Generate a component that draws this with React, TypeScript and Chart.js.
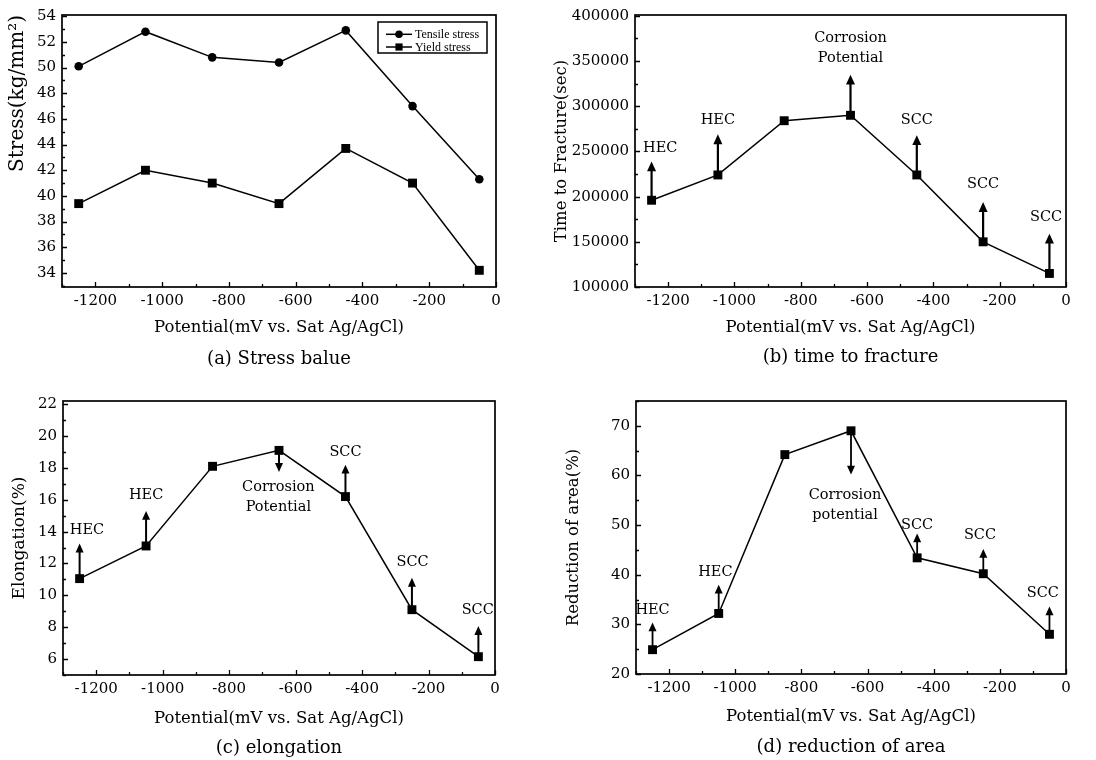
import React, { useEffect, useRef } from "react";
import { Chart, registerables } from "chart.js";

Chart.register(...registerables);

// ---------- data ----------
const potentials = [-1250, -1050, -850, -650, -450, -250, -50];
const xTickValues = [-1200, -1000, -800, -600, -400, -200, 0];

const tensileStress = [50.1, 52.8, 50.8, 50.4, 52.9, 47.0, 41.3];
const yieldStress = [39.4, 42.0, 41.0, 39.4, 43.7, 41.0, 34.2];
const stressTicks = [34, 36, 38, 40, 42, 44, 46, 48, 50, 52, 54];

const fractureTime = [196000, 224000, 284000, 290000, 224000, 150000, 115000];
const fractureTicks = [100000, 150000, 200000, 250000, 300000, 350000, 400000];
const fractureArrowTips = [239000, 269000, null, 335000, 268000, 194000, 159000];
const fractureLabels = ["HEC", "HEC", "", "Corrosion|Potential", "SCC", "SCC", "SCC"];
const fractureLabelX = [-1224, -1050, null, -650, -450, -250, -60];
const fractureLabelY = [254000, 284000, null, 375000, 285000, 214000, 177500];

const elongation = [11.05, 13.1, 18.1, 19.1, 16.2, 9.1, 6.15];
const elongationTicks = [6, 8, 10, 12, 14, 16, 18, 20, 22];
const elongationArrowTips = [13.25, 15.3, null, 17.75, 18.2, 11.1, 8.07];
const elongationLabels = ["HEC", "HEC", "", "Corrosion|Potential", "SCC", "SCC", "SCC"];
const elongationLabelX = [-1228, -1050, null, -652, -450, -248, -52];
const elongationLabelY = [14.1, 16.3, null, 16.8, 19.0, 12.1, 9.05];

const reductionOfArea = [24.9, 32.2, 64.2, 69.0, 43.4, 40.2, 28.0];
const reductionTicks = [20, 30, 40, 50, 60, 70];
const reductionArrowTips = [30.4, 38.0, null, 60.2, 48.3, 45.2, 33.6];
const reductionLabels = ["HEC", "HEC", "", "Corrosion|potential", "SCC", "SCC", "SCC"];
const reductionLabelX = [-1250, -1060, null, -668, -450, -260, -70];
const reductionLabelY = [32.9, 40.5, null, 56.1, 50.0, 48.0, 36.3];

const X_TITLE = "Potential(mV vs. Sat Ag/AgCl)";

// ---------- styles ----------
const SERIF = "'DejaVu Serif', 'Liberation Serif', serif";
const TICK_FONT = { family: SERIF, size: 15 };
const TITLE_FONT = { family: SERIF, size: 16.5, lineHeight: 1.2 };

type Notes = {
  tips: (number | null)[];
  labels: string[];
  lx: (number | null)[];
  ly: (number | null)[];
  head: number;
  shaft: number;
};

type Spec = {
  key: string;
  pos: [number, number];
  plot: [number, number, number, number];
  yMin: number;
  yMax: number;
  yTicks: number[];
  yTitle: string;
  yTitleSize: number;
  yTitleCenter: number;
  yTitleAlign: "center" | "end";
  xTitleOffset: number;
  subtitle: string;
  subtitleOffset: number;
  series: { label: string; data: number[]; style: "circle" | "rect" }[];
  legend: boolean;
  notes?: Notes;
};

const specs: Spec[] = [
  {
    key: "a",
    pos: [0, 0],
    plot: [62, 13, 496, 287],
    yMin: 32.9,
    yMax: 54.1,
    yTicks: stressTicks,
    yTitle: "Stress(kg/mm²)",
    yTitleSize: 20,
    yTitleCenter: 18,
    yTitleAlign: "end",
    xTitleOffset: 41,
    subtitle: "(a) Stress balue",
    subtitleOffset: 72,
    series: [
      { label: "Tensile stress", data: tensileStress, style: "circle" },
      { label: "Yield stress", data: yieldStress, style: "rect" },
    ],
    legend: true,
  },
  {
    key: "b",
    pos: [548, 0],
    plot: [87, 13, 518, 287],
    yMin: 100000,
    yMax: 401000,
    yTicks: fractureTicks,
    yTitle: "Time to Fracture(sec)",
    yTitleSize: 16.5,
    yTitleCenter: 14,
    yTitleAlign: "center",
    xTitleOffset: 41,
    subtitle: "(b) time to fracture",
    subtitleOffset: 70,
    series: [{ label: "Time to fracture", data: fractureTime, style: "rect" }],
    legend: false,
    notes: {
      tips: fractureArrowTips,
      labels: fractureLabels,
      lx: fractureLabelX,
      ly: fractureLabelY,
      head: 9,
      shaft: 2.2,
    },
  },
  {
    key: "c",
    pos: [0, 380],
    plot: [63, 21, 495, 295],
    yMin: 5,
    yMax: 22.2,
    yTicks: elongationTicks,
    yTitle: "Elongation(%)",
    yTitleSize: 17,
    yTitleCenter: 20,
    yTitleAlign: "center",
    xTitleOffset: 43.5,
    subtitle: "(c) elongation",
    subtitleOffset: 73,
    series: [{ label: "Elongation", data: elongation, style: "rect" }],
    legend: false,
    notes: {
      tips: elongationArrowTips,
      labels: elongationLabels,
      lx: elongationLabelX,
      ly: elongationLabelY,
      head: 8,
      shaft: 2,
    },
  },
  {
    key: "d",
    pos: [548, 380],
    plot: [88, 21, 518, 294],
    yMin: 20,
    yMax: 75,
    yTicks: reductionTicks,
    yTitle: "Reduction of area(%)",
    yTitleSize: 16.5,
    yTitleCenter: 26,
    yTitleAlign: "center",
    xTitleOffset: 43,
    subtitle: "(d) reduction of area",
    subtitleOffset: 73,
    series: [{ label: "Reduction of area", data: reductionOfArea, style: "rect" }],
    legend: false,
    notes: {
      tips: reductionArrowTips,
      labels: reductionLabels,
      lx: reductionLabelX,
      ly: reductionLabelY,
      head: 8,
      shaft: 1.8,
    },
  },
];

const W = 548;
const H = 380;

function minorValues(major: number[], min: number, max: number): number[] {
  const out: number[] = [];
  if (major.length < 2) return out;
  const step = major[1] - major[0];
  const first = major[0] - step / 2;
  for (let v = first; v <= max + 1e-9; v += step) {
    if (v >= min - 1e-9) out.push(v);
  }
  return out;
}

function makeDecor(spec: Spec) {
  return {
    id: "decor_" + spec.key,
    beforeDatasetsDraw(chart: any) {
      const { ctx, chartArea: a, scales } = chart;
      const xs = scales.x;
      const ys = scales.y;
      ctx.save();
      ctx.strokeStyle = "#000";
      // inward tick marks
      ctx.lineWidth = 1.3;
      const majX = xTickValues;
      const minX = minorValues(majX, xs.min, xs.max);
      ctx.beginPath();
      majX.forEach((v) => {
        const px = Math.round(xs.getPixelForValue(v)) + 0.5;
        ctx.moveTo(px, a.bottom);
        ctx.lineTo(px, a.bottom - 5);
      });
      minX.forEach((v) => {
        const px = Math.round(xs.getPixelForValue(v)) + 0.5;
        ctx.moveTo(px, a.bottom);
        ctx.lineTo(px, a.bottom - 3);
      });
      const majY = spec.yTicks;
      const minY = minorValues(majY, ys.min, ys.max);
      majY.forEach((v) => {
        const py = Math.round(ys.getPixelForValue(v)) + 0.5;
        ctx.moveTo(a.left, py);
        ctx.lineTo(a.left + 5, py);
      });
      minY.forEach((v) => {
        const py = Math.round(ys.getPixelForValue(v)) + 0.5;
        ctx.moveTo(a.left, py);
        ctx.lineTo(a.left + 3, py);
      });
      ctx.stroke();
      // frame
      ctx.lineWidth = 1.7;
      ctx.strokeRect(a.left, a.top, a.right - a.left, a.bottom - a.top);
      ctx.restore();
    },
    afterDatasetsDraw(chart: any) {
      const { ctx, chartArea: a, scales } = chart;
      const xs = scales.x;
      const ys = scales.y;
      ctx.save();
      ctx.fillStyle = "#000";
      ctx.strokeStyle = "#000";
      const n = spec.notes;
      if (n) {
        const data = spec.series[0].data;
        potentials.forEach((xv, i) => {
          const tip = n.tips[i];
          if (tip !== null && tip !== undefined) {
            const px = xs.getPixelForValue(xv);
            const y0 = ys.getPixelForValue(data[i]);
            const y1 = ys.getPixelForValue(tip);
            const dir = y1 < y0 ? -1 : 1;
            ctx.lineWidth = n.shaft;
            ctx.beginPath();
            ctx.moveTo(px, y0);
            ctx.lineTo(px, y1 - dir * n.head * 0.8);
            ctx.stroke();
            ctx.beginPath();
            ctx.moveTo(px, y1);
            ctx.lineTo(px - n.head / 2, y1 - dir * n.head * 1.1);
            ctx.lineTo(px + n.head / 2, y1 - dir * n.head * 1.1);
            ctx.closePath();
            ctx.fill();
          }
          const lx = n.lx[i];
          const ly = n.ly[i];
          if (lx !== null && ly !== null && n.labels[i]) {
            ctx.font = `14.5px ${SERIF}`;
            ctx.textAlign = "center";
            ctx.textBaseline = "middle";
            const lines = n.labels[i].split("|");
            const bx = xs.getPixelForValue(lx);
            const by = ys.getPixelForValue(ly);
            lines.forEach((t, k) => ctx.fillText(t, bx, by + k * 20));
          }
        });
      }
      if (spec.legend) {
        const bw = 109;
        const bh = 31;
        const bx = a.right - 9 - bw;
        const by = a.top + 7;
        ctx.lineWidth = 1.5;
        ctx.strokeRect(bx, by, bw, bh);
        chart.data.datasets.forEach((ds: any, i: number) => {
          const cy = by + 12.3 + i * 12.7;
          ctx.lineWidth = 1.5;
          ctx.beginPath();
          ctx.moveTo(bx + 8, cy);
          ctx.lineTo(bx + 34, cy);
          ctx.stroke();
          const mx = bx + 21;
          ctx.beginPath();
          if (ds.pointStyle === "circle") {
            ctx.arc(mx, cy, 3.8, 0, Math.PI * 2);
          } else {
            ctx.rect(mx - 3.6, cy - 3.6, 7.2, 7.2);
          }
          ctx.fill();
          ctx.font = `12px 'Liberation Serif', serif`;
          ctx.textAlign = "left";
          ctx.textBaseline = "middle";
          ctx.fillText(ds.label, bx + 37, cy + 0.5);
        });
      }
      // caption below the axis title
      ctx.font = `18px ${SERIF}`;
      ctx.textAlign = "center";
      ctx.textBaseline = "middle";
      ctx.fillText(spec.subtitle, (a.left + a.right) / 2, a.bottom + spec.subtitleOffset);
      ctx.restore();
    },
  };
}

function Panel({ spec }: { spec: Spec }) {
  const ref = useRef<HTMLCanvasElement | null>(null);
  useEffect(() => {
    if (!ref.current) return;
    const [l, t, r, b] = spec.plot;
    const titleHalf = (TITLE_FONT.size * TITLE_FONT.lineHeight) / 2;
    const yTitleHalf = (spec.yTitleSize * 1.2) / 2;
    const xAxisH = spec.xTitleOffset + titleHalf;
    const chart = new Chart(ref.current, {
      type: "line",
      data: {
        datasets: spec.series.map((s) => ({
          label: s.label,
          data: potentials.map((x, i) => ({ x, y: s.data[i] })),
          borderColor: "#000",
          borderWidth: 1.5,
          backgroundColor: "#000",
          pointStyle: s.style,
          pointRadius: s.style === "circle" ? 4.3 : 6.3,
          pointBorderWidth: 0,
          pointBackgroundColor: "#000",
          tension: 0,
          clip: false as any,
        })),
      },
      options: {
        responsive: false,
        animation: false,
        events: [],
        layout: {
          padding: { left: 0, top: t, right: W - r, bottom: H - b - xAxisH },
        },
        plugins: {
          legend: { display: false },
          tooltip: { enabled: false },
          title: { display: false },
        },
        scales: {
          x: {
            type: "linear",
            min: -1300,
            max: 0,
            afterBuildTicks: (ax: any) => {
              ax.ticks = xTickValues.map((v) => ({ value: v }));
            },
            afterFit: (ax: any) => {
              ax.height = xAxisH;
            },
            grid: { display: false, drawTicks: false },
            border: { display: false },
            ticks: {
              font: TICK_FONT,
              color: "#000",
              padding: 5,
              maxRotation: 0,
              autoSkip: false,
              callback: (v: any) => String(v),
            },
            title: {
              display: true,
              text: X_TITLE,
              font: TITLE_FONT,
              color: "#000",
              padding: { top: 0, bottom: 0 },
            },
          },
          y: {
            type: "linear",
            min: spec.yMin,
            max: spec.yMax,
            afterBuildTicks: (ax: any) => {
              ax.ticks = spec.yTicks.map((v) => ({ value: v }));
            },
            afterFit: (ax: any) => {
              ax.width = l;
            },
            grid: { display: false, drawTicks: false },
            border: { display: false },
            ticks: {
              font: TICK_FONT,
              color: "#000",
              padding: 6,
              autoSkip: false,
              callback: (v: any) => String(v),
            },
            title: {
              display: true,
              text: spec.yTitle,
              align: spec.yTitleAlign,
              font: { family: SERIF, size: spec.yTitleSize, lineHeight: 1.2 },
              color: "#000",
              padding: { top: spec.yTitleCenter - yTitleHalf, bottom: 0 },
            },
          },
        },
      },
      plugins: [makeDecor(spec)],
    } as any);
    return () => chart.destroy();
  }, [spec]);
  return (
    <div style={{ position: "absolute", left: spec.pos[0], top: spec.pos[1], width: W, height: H }}>
      <canvas ref={ref} width={W} height={H} style={{ width: W, height: H, display: "block" }} />
    </div>
  );
}

export default function App() {
  return (
    <div
      style={{
        position: "absolute",
        left: 0,
        top: 0,
        width: 1096,
        height: 760,
        background: "#fff",
        overflow: "hidden",
      }}
    >
      {specs.map((s) => (
        <Panel key={s.key} spec={s} />
      ))}
    </div>
  );
}
